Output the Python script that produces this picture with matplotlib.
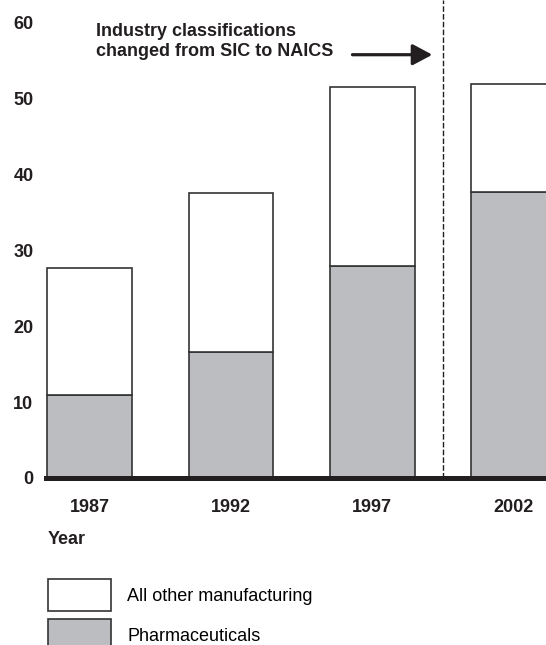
import matplotlib.pyplot as plt
from matplotlib.patches import Patch

years = ['1987', '1992', '1997', '2002']
pharma = [10.9, 16.6, 27.9, 37.6]
all_other = [16.7, 20.9, 23.5, 14.2]

plt.rcParams['font.family'] = ['Liberation Sans', 'DejaVu Sans']

fig = plt.figure(figsize=(5.46, 6.45), dpi=100)
ax = fig.add_axes([46 / 546, 167 / 645, 1 - 46 / 546, 478 / 645])

x = list(range(len(years)))
ax.bar(x, pharma, width=0.6, color='#bcbdc0', edgecolor='#333333', linewidth=1.2, zorder=1)
ax.bar(x, all_other, width=0.6, bottom=pharma, color='white', edgecolor='#333333',
       linewidth=1.2, zorder=1)

ax.set_xlim(-0.31, 3.23)
ax.set_ylim(0, 62.9)

for s in ['left', 'top', 'right']:
    ax.spines[s].set_visible(False)
ax.spines['bottom'].set_linewidth(3.6)
ax.spines['bottom'].set_color('#231f20')

ax.set_yticks(range(0, 61, 10))
ax.set_xticks(x, years)
ax.tick_params(axis='y', length=0, pad=9, labelsize=13)
ax.tick_params(axis='x', length=0, pad=15, labelsize=13)
for lab in ax.get_xticklabels() + ax.get_yticklabels():
    lab.set_fontweight('bold')
    lab.set_color('#231f20')

# classification change marker
ax.axvline(2.5, color='#231f20', lw=1.0, dashes=(4, 1.6), zorder=0)
ax.annotate('', xy=(2.445, 55.7), xytext=(1.84, 55.7),
            arrowprops=dict(arrowstyle='-|>,head_length=0.6,head_width=0.32',
                            mutation_scale=20, lw=2.3, color='#231f20'))
fig.text(96 / 546, 1 - 41.5 / 645, 'Industry classifications\nchanged from SIC to NAICS',
         fontsize=13, fontweight='bold', color='#231f20', va='center', ha='left',
         linespacing=1.3)

fig.text(48 / 546, 1 - 540 / 645, 'Year', fontsize=13, fontweight='bold',
         color='#231f20', va='center', ha='left')

# legend
handles = [Patch(facecolor='white', edgecolor='#333333', linewidth=1.2),
           Patch(facecolor='#bcbdc0', edgecolor='#333333', linewidth=1.2)]
fig.legend(handles, ['All other manufacturing', 'Pharmaceuticals'],
           loc='upper left', bbox_to_anchor=(47.7 / 546, 1 - 579 / 645),
           bbox_transform=fig.transFigure, frameon=False, fontsize=13,
           handlelength=3.5, handleheight=2.35, labelspacing=0.45,
           handletextpad=0.9, borderpad=0, borderaxespad=0)

fig.savefig('out.png', dpi=100)
